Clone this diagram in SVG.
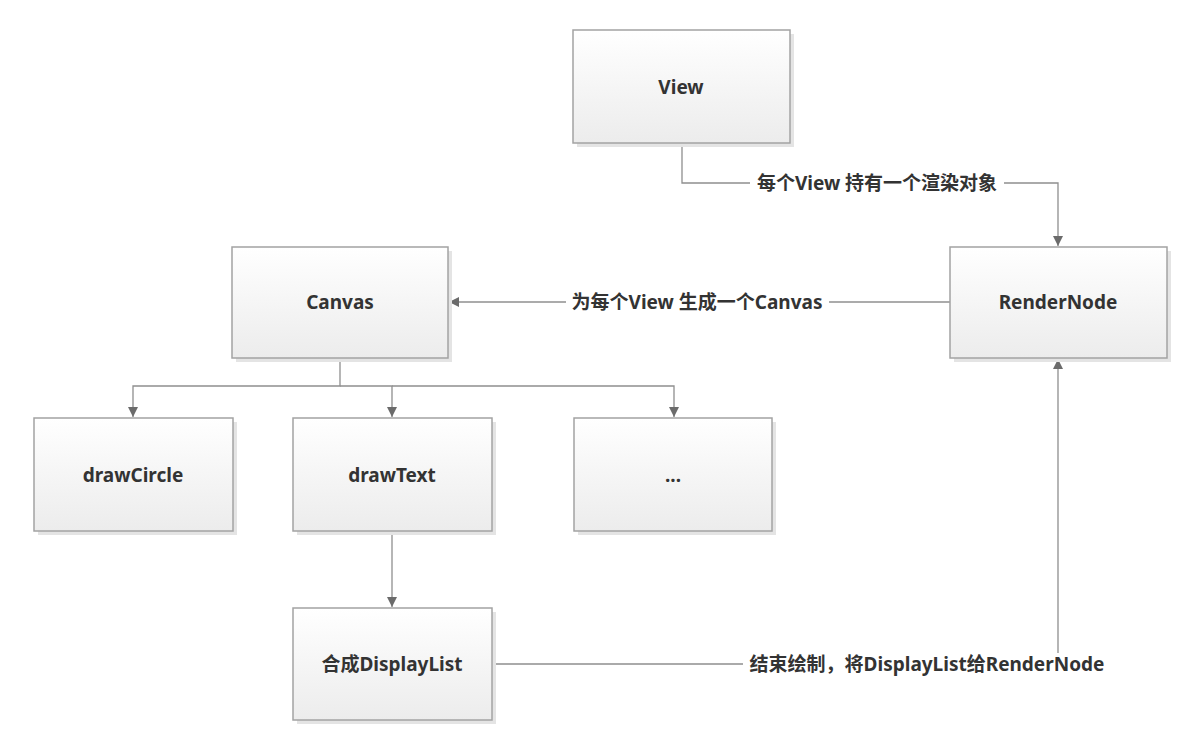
<svg xmlns="http://www.w3.org/2000/svg" width="1200" height="746" viewBox="0 0 1200 746">
<defs>
<linearGradient id="g" x1="0" y1="0" x2="0" y2="1">
<stop offset="0" stop-color="#ffffff"/>
<stop offset="1" stop-color="#ececec"/>
</linearGradient>
<marker id="arr" viewBox="0 0 10 10" refX="10" refY="5" markerWidth="10" markerHeight="10" markerUnits="userSpaceOnUse" orient="auto">
<path d="M0,0 L10,5 L0,10 z" fill="#6b6b6b"/>
</marker>
<style>
.sh{fill:#e4e4e4}
.bx{fill:url(#g);stroke:#a3a3a3;stroke-width:1.5}
.t{font-family:"Noto Sans","Noto Sans CJK SC",sans-serif;font-size:19px;font-weight:bold;fill:#333;text-anchor:middle;dominant-baseline:central}
.c{fill:none;stroke:#8f8f8f;stroke-width:1.3}
.lb{fill:#fff}
</style>
</defs>
<rect width="1200" height="746" fill="#fff"/>
<g id="connectors">
<path class="c" d="M682,143 V183 H1058 V246" marker-end="url(#arr)"/>
<path class="c" d="M950,302 H449" marker-end="url(#arr)"/>
<path class="c" d="M340,358 V386 H133 V417" marker-end="url(#arr)"/>
<path class="c" d="M340,386 H392 V417" marker-end="url(#arr)"/>
<path class="c" d="M392,386 H674 V417" marker-end="url(#arr)"/>
<path class="c" d="M392,531 V607" marker-end="url(#arr)"/>
<path class="c" d="M492,664 H1058 V359" marker-end="url(#arr)"/>
<rect class="lb" x="750" y="172" width="254" height="22"/>
<text class="t" x="877" y="183">每个View 持有一个渲染对象</text>
<rect class="lb" x="566" y="291" width="263" height="22"/>
<text class="t" x="697" y="302">为每个View 生成一个Canvas</text>
<rect class="lb" x="743" y="653" width="368" height="22"/>
<text class="t" x="927" y="664">结束绘制，将DisplayList给RenderNode</text>
</g>
<g id="view">
<rect class="sh" x="577" y="34" width="217" height="113"/>
<rect class="bx" x="573" y="30" width="217" height="113"/>
<text class="t" x="681" y="87">View</text>
</g>
<g id="canvas">
<rect class="sh" x="236" y="251" width="216" height="111"/>
<rect class="bx" x="232" y="247" width="216" height="111"/>
<text class="t" x="340" y="302">Canvas</text>
</g>
<g id="rendernode">
<rect class="sh" x="954" y="251" width="217" height="111"/>
<rect class="bx" x="950" y="247" width="217" height="111"/>
<text class="t" x="1058" y="302">RenderNode</text>
</g>
<g id="drawCircle">
<rect class="sh" x="38" y="422" width="199" height="113"/>
<rect class="bx" x="34" y="418" width="199" height="113"/>
<text class="t" x="133" y="475">drawCircle</text>
</g>
<g id="drawText">
<rect class="sh" x="297" y="422" width="199" height="113"/>
<rect class="bx" x="293" y="418" width="199" height="113"/>
<text class="t" x="392" y="475">drawText</text>
</g>
<g id="more">
<rect class="sh" x="578" y="422" width="198" height="113"/>
<rect class="bx" x="574" y="418" width="198" height="113"/>
<text class="t" x="673" y="475">...</text>
</g>
<g id="displaylist">
<rect class="sh" x="297" y="612" width="199" height="112"/>
<rect class="bx" x="293" y="608" width="199" height="112"/>
<text class="t" x="392" y="664">合成DisplayList</text>
</g>
</svg>
